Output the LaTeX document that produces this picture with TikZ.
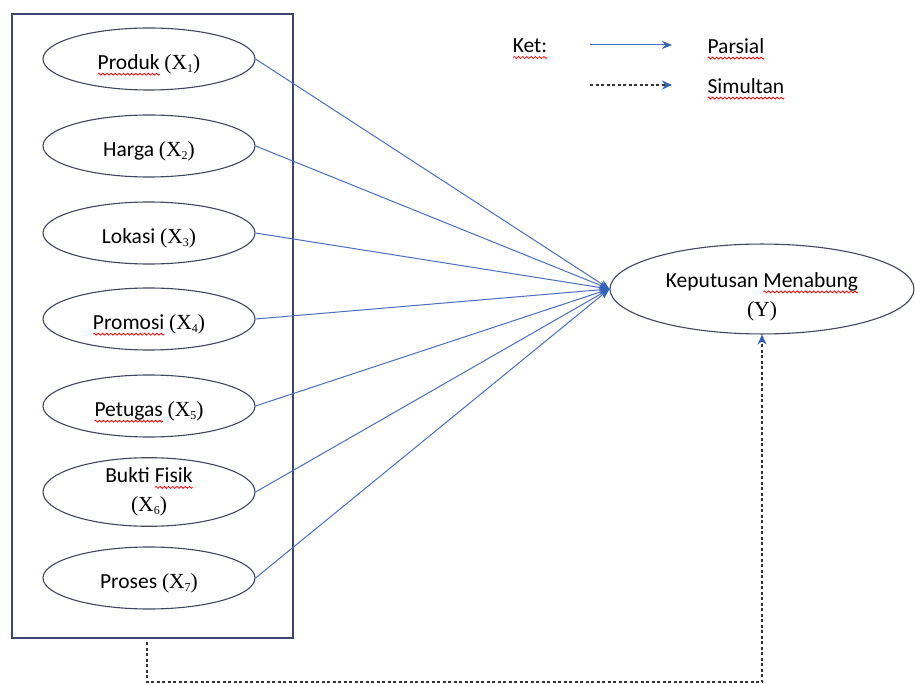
\documentclass[tikz,border=0pt]{standalone}
\usepackage{fontspec}
\setmainfont{Carlito}
\newfontfamily\xfont{Liberation Serif}
\usetikzlibrary{arrows.meta,shapes.geometric}
\newsavebox\wavebox
\sbox\wavebox{\begin{pgfpicture}%
  \pgfpathrectangle{\pgfpoint{0pt}{-1.3pt}}{\pgfpoint{4pt}{2.6pt}}\pgfusepath{use as bounding box}%
  \pgfsetlinewidth{0.8pt}\pgfsetstrokecolor{red}%
  \pgfpathmoveto{\pgfpoint{0pt}{0pt}}%
  \pgfpathcurveto{\pgfpoint{0.6pt}{1.3pt}}{\pgfpoint{1.4pt}{1.3pt}}{\pgfpoint{2pt}{0pt}}%
  \pgfpathcurveto{\pgfpoint{2.6pt}{-1.3pt}}{\pgfpoint{3.4pt}{-1.3pt}}{\pgfpoint{4pt}{0pt}}%
  \pgfusepath{stroke}%
\end{pgfpicture}}
\newcommand\redsq[1]{\setbox0=\hbox{#1}\rlap{\raisebox{-6pt}[0pt][0pt]{\hbox to \wd0{\xleaders\copy\wavebox\hfill}}}\box0\relax}
\newcommand\vx[1]{{\xfont(X\raisebox{-3pt}{\fontsize{12}{12}\selectfont #1})}}
\definecolor{boxcol}{HTML}{3B4670}
\definecolor{ellcol}{HTML}{404660}
\definecolor{linecol}{HTML}{4A6FC0}
\definecolor{tipcol}{HTML}{3462B8}
\definecolor{dashcol}{HTML}{333333}
\tikzset{
  txt/.style={font=\fontsize{21.5}{29}\selectfont, text=black},
  var/.style={ellipse, draw=ellcol, line width=1.1pt, minimum width=212pt, minimum height=62pt, inner sep=0pt, txt, align=center},
  var1/.style={var, text height=23pt, text depth=2pt},
  yvar/.style={ellipse, draw=ellcol, line width=1.1pt, minimum width=304pt, minimum height=83pt, inner sep=0pt, txt, align=center},
  framebox/.style={draw=boxcol, line width=1.4pt, minimum width=281pt, minimum height=624pt, inner sep=0pt},
  part/.style={draw=linecol, line width=1pt, -{Stealth[length=10pt,width=8pt,color=tipcol]}},
  simul/.style={draw=dashcol, line width=1.3pt, dash pattern=on 3pt off 2.5pt, -{Stealth[length=10pt,width=9pt,color=tipcol]}},
}
\begin{document}
\begin{tikzpicture}[x=1pt,y=-1pt]
\useasboundingbox[fill=white] (0,0) rectangle (915,684);
\node[framebox] (box) at (152.5,326) {};
\node[var1] (x1) at (149,59) {\redsq{Produk} \vx{1}};
\node[var1] (x2) at (149,146) {Harga \vx{2}};
\node[var1] (x3) at (149,233) {Lokasi \vx{3}};
\node[var1] (x4) at (149,319) {\redsq{Promosi} \vx{4}};
\node[var1] (x5) at (149,406) {\redsq{Petugas} \vx{5}};
\node[var] (x6) at (149,492) {Bukti \redsq{Fisik}\\\vx{6}};
\node[var1] (x7) at (149,578) {Proses \vx{7}};
\node[yvar] (y) at (762,289) {\rule{0pt}{30pt}Keputusan \redsq{Menabung}\\{\xfont(Y)}};
\foreach \i in {1,...,7} {\draw[part] (x\i.east) -- (y.west);}
\coordinate (ds) at (147,642);
\coordinate (dc) at (147,682);
\draw[simul] (ds) -- (dc) -| (y.south);
\node[txt] (ket) at (530,46) {\redsq{Ket:}};
\coordinate (l1a) at (590,45);
\coordinate (l1b) at (672,45);
\draw[part] (l1a) -- (l1b);
\node[txt, anchor=west] (parsial) at (704,46) {\redsq{Parsial}};
\coordinate (l2a) at (590,85);
\coordinate (l2b) at (672,85);
\draw[simul] (l2a) -- (l2b);
\node[txt, anchor=west] (simultan) at (704,86) {\redsq{Simultan}};
\end{tikzpicture}
\end{document}
